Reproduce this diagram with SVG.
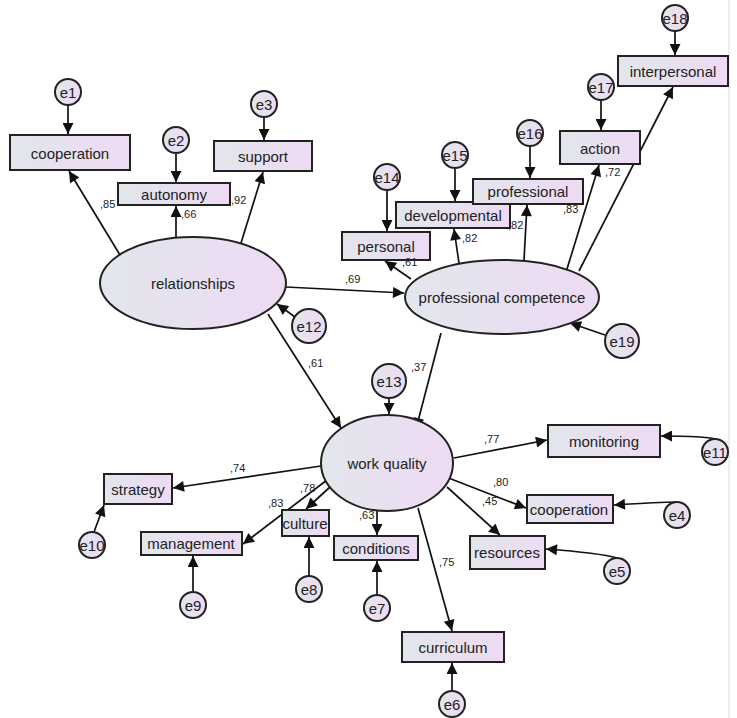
<svg xmlns="http://www.w3.org/2000/svg" width="737" height="718" viewBox="0 0 737 718">
<style>
.n{stroke:#222;stroke-width:2;fill:url(#g)}
.t{font-family:"Liberation Sans",Arial,sans-serif;font-size:15px;fill:#222;text-anchor:middle;dominant-baseline:central}
.v{font-family:"Liberation Sans",Arial,sans-serif;font-size:11px;fill:#222}
.c line,.c path{stroke:#111;stroke-width:1.7;fill:none;marker-end:url(#a)}
</style>
<defs>
<linearGradient id="g" x1="0" x2="1" y1="0" y2="0"><stop offset="0" stop-color="#e2e6ec"/><stop offset="1" stop-color="#eedaf4"/></linearGradient>
<marker id="a" viewBox="0 0 10 10" refX="10" refY="5" markerWidth="16" markerHeight="11" markerUnits="userSpaceOnUse" orient="auto"><path d="M0,0L10,5L0,10z" fill="#111"/></marker>
</defs>
<rect width="737" height="718" fill="#fff"/>
<line x1="729" y1="0" x2="729" y2="718" stroke="#ddd"/>
<g class="c">
<line x1="68" y1="105" x2="68" y2="134"/>
<line x1="176" y1="153" x2="176" y2="182"/>
<line x1="264" y1="117" x2="264" y2="140"/>
<line x1="387" y1="190" x2="387" y2="231"/>
<line x1="455" y1="168" x2="455" y2="201"/>
<line x1="530" y1="146" x2="530" y2="178"/>
<line x1="601" y1="100" x2="601" y2="130"/>
<line x1="675" y1="31" x2="675" y2="55"/>
<line x1="605" y1="335" x2="570" y2="323"/>
<line x1="295" y1="317" x2="277" y2="304"/>
<line x1="389" y1="398" x2="389" y2="414"/>
<path d="M715,439 Q705,436 661,436"/>
<path d="M677,502 Q660,502 614,505"/>
<path d="M617,558 Q600,553 546,549"/>
<line x1="452" y1="691" x2="452" y2="663"/>
<line x1="377" y1="595" x2="377" y2="561"/>
<line x1="309" y1="576" x2="309" y2="537"/>
<line x1="193" y1="592" x2="193" y2="556"/>
<line x1="94" y1="532" x2="104" y2="505"/>
<line x1="120" y1="255" x2="69" y2="171"/>
<line x1="176" y1="237" x2="176" y2="206"/>
<line x1="241" y1="243" x2="263" y2="172"/>
<line x1="286" y1="287" x2="404" y2="293"/>
<line x1="268" y1="314" x2="341" y2="428"/>
<line x1="411" y1="279" x2="385" y2="261"/>
<line x1="459" y1="263" x2="454" y2="229"/>
<line x1="524" y1="260" x2="527" y2="205"/>
<line x1="567" y1="269" x2="599" y2="165"/>
<line x1="579" y1="271" x2="673" y2="87"/>
<line x1="441" y1="333" x2="416" y2="429"/>
<line x1="454" y1="458" x2="547" y2="440"/>
<line x1="321" y1="466" x2="173" y2="488"/>
<line x1="327" y1="480" x2="243" y2="544"/>
<line x1="330" y1="487" x2="306" y2="509"/>
<line x1="377" y1="511" x2="377" y2="535"/>
<line x1="446" y1="477" x2="526" y2="508"/>
<line x1="447" y1="487" x2="500" y2="535"/>
<line x1="418" y1="508" x2="452" y2="631"/>
</g>
<g id="relationships"><ellipse class="n" cx="193" cy="283" rx="93" ry="46"/><text class="t" x="193" y="283">relationships</text></g>
<g id="profcomp"><ellipse class="n" cx="502" cy="297" rx="97" ry="37"/><text class="t" x="502" y="297">professional competence</text></g>
<g id="workquality"><ellipse class="n" cx="387" cy="463" rx="66" ry="48"/><text class="t" x="387" y="463">work quality</text></g>
<g id="cooperation1"><rect class="n" x="10" y="135" width="120" height="35"/><text class="t" x="70" y="153">cooperation</text></g>
<g id="autonomy"><rect class="n" x="118" y="183" width="112" height="22"/><text class="t" x="174" y="194">autonomy</text></g>
<g id="support"><rect class="n" x="214" y="141" width="98" height="30"/><text class="t" x="263" y="156">support</text></g>
<g id="personal"><rect class="n" x="342" y="232" width="88" height="28"/><text class="t" x="386" y="246">personal</text></g>
<g id="developmental"><rect class="n" x="396" y="202" width="114" height="26"/><text class="t" x="453" y="215">developmental</text></g>
<g id="professional"><rect class="n" x="473" y="179" width="110" height="25"/><text class="t" x="528" y="191">professional</text></g>
<g id="action"><rect class="n" x="560" y="131" width="80" height="33"/><text class="t" x="600" y="148">action</text></g>
<g id="interpersonal"><rect class="n" x="618" y="56" width="110" height="30"/><text class="t" x="673" y="71">interpersonal</text></g>
<g id="monitoring"><rect class="n" x="548" y="425" width="112" height="32"/><text class="t" x="604" y="441">monitoring</text></g>
<g id="strategy"><rect class="n" x="104" y="474" width="68" height="30"/><text class="t" x="138" y="489">strategy</text></g>
<g id="management"><rect class="n" x="141" y="532" width="101" height="23"/><text class="t" x="191" y="543">management</text></g>
<g id="culture"><rect class="n" x="282" y="510" width="47" height="26"/><text class="t" x="305" y="523">culture</text></g>
<g id="conditions"><rect class="n" x="334" y="536" width="84" height="24"/><text class="t" x="376" y="548">conditions</text></g>
<g id="cooperation2"><rect class="n" x="527" y="495" width="86" height="28"/><text class="t" x="569" y="509">cooperation</text></g>
<g id="resources"><rect class="n" x="470" y="536" width="75" height="33"/><text class="t" x="507" y="552">resources</text></g>
<g id="curriculum"><rect class="n" x="402" y="632" width="102" height="30"/><text class="t" x="453" y="647">curriculum</text></g>
<g id="e1"><circle class="n" cx="68" cy="92" r="13"/><text class="t" x="68" y="92">e1</text></g>
<g id="e2"><circle class="n" cx="176" cy="140" r="13"/><text class="t" x="176" y="140">e2</text></g>
<g id="e3"><circle class="n" cx="264" cy="104" r="13"/><text class="t" x="264" y="104">e3</text></g>
<g id="e14"><circle class="n" cx="387" cy="177" r="13"/><text class="t" x="387" y="177">e14</text></g>
<g id="e15"><circle class="n" cx="455" cy="155" r="13"/><text class="t" x="455" y="155">e15</text></g>
<g id="e16"><circle class="n" cx="530" cy="133" r="13"/><text class="t" x="530" y="133">e16</text></g>
<g id="e17"><circle class="n" cx="601" cy="87" r="13"/><text class="t" x="601" y="87">e17</text></g>
<g id="e18"><circle class="n" cx="675" cy="18" r="13"/><text class="t" x="675" y="18">e18</text></g>
<g id="e19"><circle class="n" cx="622" cy="341" r="17"/><text class="t" x="622" y="341">e19</text></g>
<g id="e12"><circle class="n" cx="309" cy="326" r="17"/><text class="t" x="309" y="326">e12</text></g>
<g id="e13"><circle class="n" cx="389" cy="381" r="17"/><text class="t" x="389" y="381">e13</text></g>
<g id="e11"><circle class="n" cx="715" cy="452" r="13"/><text class="t" x="715" y="452">e11</text></g>
<g id="e4"><circle class="n" cx="677" cy="515" r="13"/><text class="t" x="677" y="515">e4</text></g>
<g id="e5"><circle class="n" cx="617" cy="571" r="13"/><text class="t" x="617" y="571">e5</text></g>
<g id="e6"><circle class="n" cx="452" cy="704" r="13"/><text class="t" x="452" y="704">e6</text></g>
<g id="e7"><circle class="n" cx="377" cy="608" r="13"/><text class="t" x="377" y="608">e7</text></g>
<g id="e8"><circle class="n" cx="309" cy="589" r="13"/><text class="t" x="309" y="589">e8</text></g>
<g id="e9"><circle class="n" cx="193" cy="605" r="13"/><text class="t" x="193" y="605">e9</text></g>
<g id="e10"><circle class="n" cx="92" cy="545" r="13"/><text class="t" x="92" y="545">e10</text></g>
<g id="labels">
<text class="v" x="100" y="208">,85</text>
<text class="v" x="181" y="218">,66</text>
<text class="v" x="231" y="204">,92</text>
<text class="v" x="345" y="283">,69</text>
<text class="v" x="308" y="367">,61</text>
<text class="v" x="402" y="266">,61</text>
<text class="v" x="462" y="242">,82</text>
<text class="v" x="508" y="229">,82</text>
<text class="v" x="563" y="213">,83</text>
<text class="v" x="605" y="176">,72</text>
<text class="v" x="411" y="371">,37</text>
<text class="v" x="484" y="443">,77</text>
<text class="v" x="230" y="472">,74</text>
<text class="v" x="268" y="507">,83</text>
<text class="v" x="300" y="492">,78</text>
<text class="v" x="359" y="519">,63</text>
<text class="v" x="493" y="486">,80</text>
<text class="v" x="482" y="505">,45</text>
<text class="v" x="439" y="566">,75</text>
</g>
</svg>
